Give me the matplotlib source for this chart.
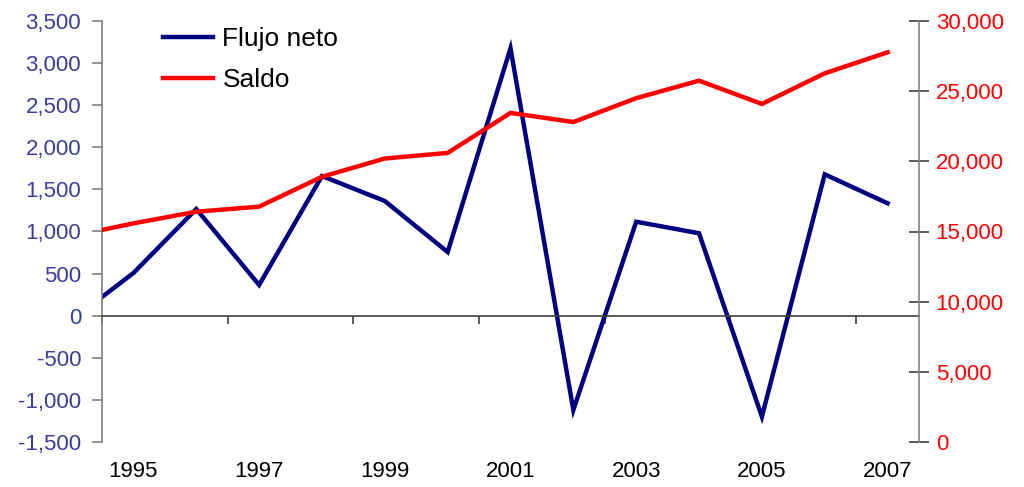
import matplotlib
matplotlib.use('Agg')
import matplotlib.pyplot as plt
from matplotlib.ticker import FuncFormatter, MultipleLocator

plt.rcParams['font.family'] = ['Liberation Sans', 'DejaVu Sans']

# 1994 lies just outside the visible range (line is clipped at the left edge)
years = [1994, 1995, 1996, 1997, 1998, 1999, 2000, 2001, 2002, 2003, 2004, 2005, 2006, 2007]
flujo_neto = [-63, 507, 1267, 365, 1659, 1362, 756, 3176, -1120, 1116, 979, -1199, 1679, 1335]
saldo = [14640, 15580, 16410, 16770, 18900, 20200, 20600, 23450, 22800, 24500, 25750, 24090, 26270, 27770]
label_years = [1995, 1997, 1999, 2001, 2003, 2005, 2007]
boundary_ticks = [1994.5, 1996.5, 1998.5, 2000.5, 2002.5, 2004.5, 2006.5]

W, H = 1024, 487
fig = plt.figure(figsize=(W / 100, H / 100), dpi=100)
ax = fig.add_axes([102 / W, (H - 442) / H, (919 - 102) / W, (442 - 21) / H])
ax2 = ax.twinx()

blue = '#000080'
red = '#ff0000'
lab_blue = '#3c3c9c'
grey = '#808080'

l1, = ax.plot(years, flujo_neto, color=blue, lw=3.2, label='Flujo neto', solid_joinstyle='miter')
l2, = ax2.plot(years, saldo, color=red, lw=3.2, label='Saldo', solid_joinstyle='miter')

ax.set_xlim(1994.5, 2007.5)
ax.set_ylim(-1500, 3500)
ax2.set_ylim(0, 30000)

fmt = FuncFormatter(lambda v, p: f'{v:,.0f}')
ax.yaxis.set_major_locator(MultipleLocator(500))
ax.yaxis.set_major_formatter(fmt)
ax2.yaxis.set_major_locator(MultipleLocator(5000))
ax2.yaxis.set_major_formatter(fmt)

# spines
for s in ['top', 'right']:
    ax.spines[s].set_visible(False)
for s in ['top', 'bottom', 'left']:
    ax2.spines[s].set_visible(False)
ax.spines['left'].set_color(grey)
ax.spines['left'].set_linewidth(1.2)
ax2.spines['right'].set_color(grey)
ax2.spines['right'].set_linewidth(1.2)
ax.spines['bottom'].set_position(('data', 0))
ax.spines['bottom'].set_color('#404040')
ax.spines['bottom'].set_linewidth(1.2)

ax.tick_params(axis='y', direction='out', length=7, width=1.2, color=grey,
               labelcolor=lab_blue, labelsize=16, pad=8)
ax2.tick_params(axis='y', direction='inout', length=14, width=1.2, color='#404040',
                labelcolor=red, labelsize=16, pad=5)

ax.set_xticks(boundary_ticks)
ax.tick_params(axis='x', direction='out', length=6, width=1.2, color='#404040',
               labelbottom=False)

sec = ax.secondary_xaxis('bottom')
sec.set_xticks(label_years)
sec.set_xticklabels([str(y) for y in label_years])
sec.tick_params(axis='x', length=0, pad=14, labelsize=16, labelcolor='black')
sec.spines['bottom'].set_visible(False)

leg = ax2.legend(handles=[l1, l2], loc='upper left',
                 bbox_to_anchor=(163 / W, (H - 27) / H), bbox_transform=fig.transFigure,
                 frameon=False, fontsize=19, handlelength=1.9, handletextpad=0.35,
                 labelspacing=0.65, borderpad=0, borderaxespad=0)

fig.savefig('out.png', dpi=100)
